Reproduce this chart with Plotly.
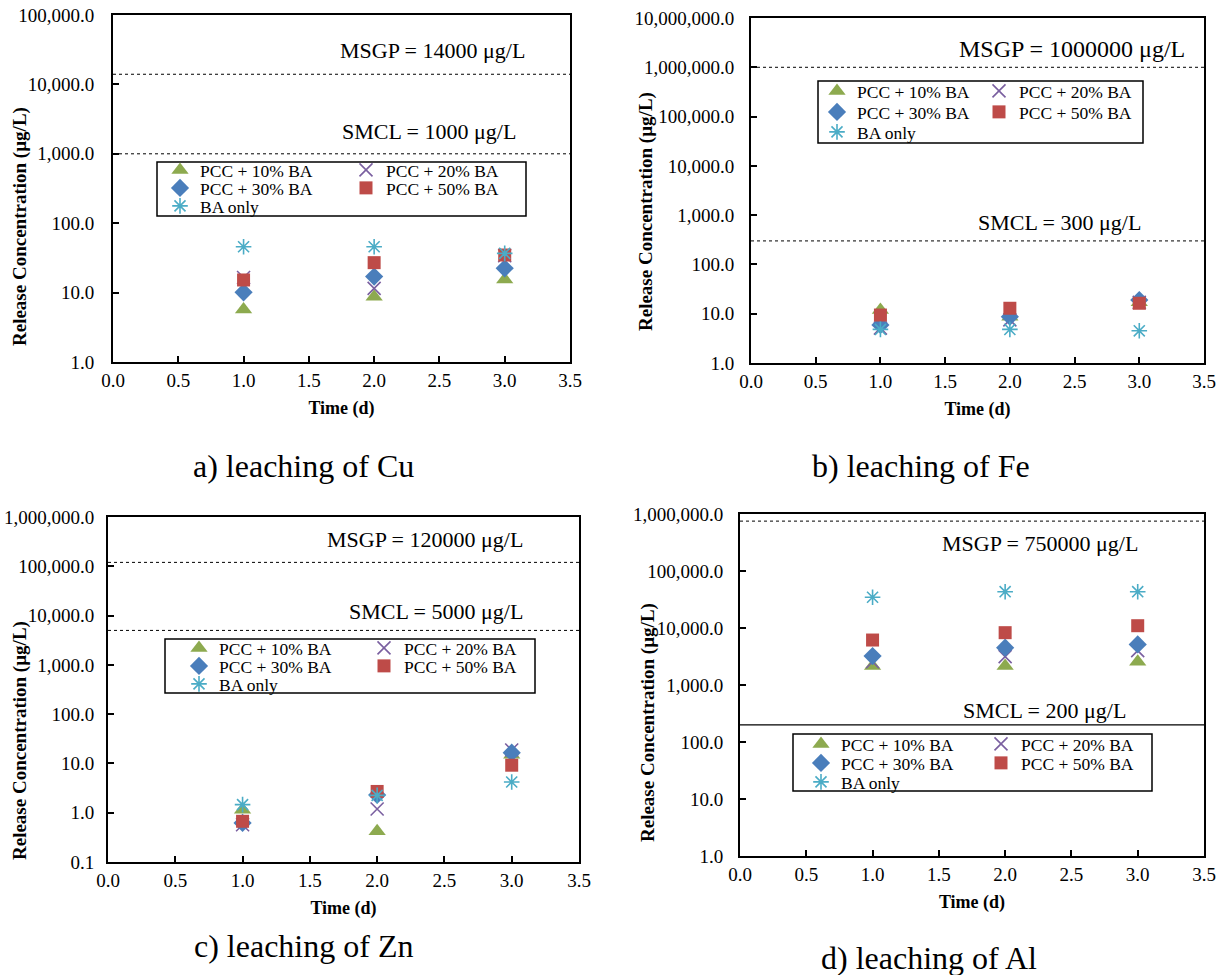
import math
import plotly.graph_objects as go

W, H = 1224, 975

# ---------------- data ----------------
days = [1, 2, 3]
series_names = ["PCC + 10% BA", "PCC + 20% BA", "PCC + 30% BA", "PCC + 50% BA", "BA only"]

cu_10 = [5.7, 8.7, 15.5]
cu_20 = [16.5, 11.5, 34.0]
cu_30 = [10.1, 17.0, 22.4]
cu_50 = [15.2, 27.0, 34.8]
cu_ba = [45.8, 45.8, 36.8]

fe_10 = [11.9, 8.7, 17.0]
fe_20 = [5.1, 7.5, 17.0]
fe_30 = [5.9, 8.7, 19.0]
fe_50 = [9.4, 12.9, 16.3]
fe_ba = [4.8, 4.8, 4.5]

zn_10 = [1.15, 0.42, 15.0]
zn_20 = [0.57, 1.19, 18.7]
zn_30 = [0.62, 2.3, 16.5]
zn_50 = [0.67, 2.7, 9.2]
zn_ba = [1.46, 2.25, 4.2]

al_10 = [2150, 2150, 2560]
al_20 = [2560, 3140, 4000]
al_30 = [3220, 4520, 5150]
al_50 = [6150, 8280, 10970]
al_ba = [34600, 43300, 43300]

msgp_limits = [14000, 1000000, 120000, 750000]
smcl_limits = [1000, 300, 5000, 200]
captions = ["a) leaching of Cu", "b) leaching of Fe", "c) leaching of Zn", "d) leaching of Al"]
x_ticks = [0, 0.5, 1.0, 1.5, 2.0, 2.5, 3.0, 3.5]
y_ticks_a = [1, 10, 100, 1000, 10000, 100000]
y_ticks_b = [1, 10, 100, 1000, 10000, 100000, 1000000, 10000000]
y_ticks_c = [0.1, 1, 10, 100, 1000, 10000, 100000, 1000000]
y_ticks_d = [1, 10, 100, 1000, 10000, 100000, 1000000]

panel_values = [
    [cu_10, cu_20, cu_30, cu_50, cu_ba],
    [fe_10, fe_20, fe_30, fe_50, fe_ba],
    [zn_10, zn_20, zn_30, zn_50, zn_ba],
    [al_10, al_20, al_30, al_50, al_ba],
]
panel_yticks = [y_ticks_a, y_ticks_b, y_ticks_c, y_ticks_d]

# ---------------- styles ----------------
SERIF = "Liberation Serif, Times New Roman, serif"
marker_styles = [
    dict(symbol="triangle-up", size=15, color="#8DAA4F", line=dict(width=0)),
    dict(symbol="x-thin-open", size=13, color="#7A5FA0", line=dict(width=1.6, color="#7A5FA0")),
    dict(symbol="diamond", size=14, color="#4A7EBB", line=dict(width=0)),
    dict(symbol="square", size=13, color="#BE4B48", line=dict(width=0)),
    dict(symbol="asterisk-open", size=13, color="#4BACC6", line=dict(width=1.6, color="#4BACC6")),
]

# layout in pixels
panels = [
    dict(dx=(113, 570), dy=(15, 362), ytitle=(20, 227), cap=(303, 466),
         rows=(170, 188, 206), legx=160, entw=141, box=(157, 162, 526, 216),
         msgp=(3.17, 24, 22), smcl=(3.10, 22, 22), smcl_dash="dot", standoff=13),
    dict(dx=(751, 1204), dy=(18, 363), ytitle=(646, 212), cap=(921, 466),
         rows=(91, 112, 132), legx=817, entw=117, box=(818, 81, 1143, 143),
         msgp=(3.37, 18, 24), smcl=(3.03, 18, 22), smcl_dash="dot", standoff=11),
    dict(dx=(108, 579), dy=(517, 862), ytitle=(20, 741), cap=(303, 946),
         rows=(648, 666, 684), legx=179, entw=140, box=(165, 639, 535, 693),
         msgp=(3.10, 23, 22), smcl=(3.10, 19, 22), smcl_dash="dot", standoff=8),
    dict(dx=(740, 1204), dy=(514, 856), ytitle=(648, 723), cap=(929, 958),
         rows=(744, 763, 782), legx=801, entw=135, box=(793, 734, 1152, 791),
         msgp=(3.02, -22, 22), smcl=(2.93, 14, 22), smcl_dash="solid", standoff=11),
]


def pxx(x):
    return x / W


def pxy(y):
    return 1 - y / H


fig = go.Figure()
layout = dict(
    width=W, height=H, margin=dict(l=0, r=0, t=0, b=0),
    paper_bgcolor="white", plot_bgcolor="white", showlegend=True,
    font=dict(family=SERIF, color="black"),
)
annotations = []
shapes = []
legend_counter = 0
row_of_series = [0, 0, 1, 1, 2]

for i, (vals, p) in enumerate(zip(panel_values, panels)):
    sfx = "" if i == 0 else str(i + 1)
    xa, ya = "x" + sfx, "y" + sfx
    legend_ids = []
    for r in range(3):
        legend_counter += 1
        lid = "legend" if legend_counter == 1 else "legend%d" % legend_counter
        legend_ids.append(lid)
        layout[lid] = dict(
            orientation="h", entrywidth=p["entw"], entrywidthmode="pixels",
            x=pxx(p["legx"]), xanchor="left", y=pxy(p["rows"][r]), yanchor="middle",
            bgcolor="rgba(0,0,0,0)", borderwidth=0,
            font=dict(family=SERIF, size=17.5, color="black"),
            itemsizing="trace", tracegroupgap=0,
        )
    # threshold lines
    for lim, dash in ((msgp_limits[i], "dot"), (smcl_limits[i], p["smcl_dash"])):
        fig.add_trace(go.Scatter(
            x=[x_ticks[0], x_ticks[-1]], y=[lim, lim], mode="lines",
            line=dict(color="black", width=1.2 if dash == "solid" else 1, dash=dash),
            showlegend=False, hoverinfo="skip", xaxis=xa, yaxis=ya))
    for k in range(5):
        fig.add_trace(go.Scatter(
            x=days, y=vals[k], mode="markers", name=series_names[k],
            marker=marker_styles[k], xaxis=xa, yaxis=ya,
            legend=legend_ids[row_of_series[k]]))

    yt = panel_yticks[i]
    layout["xaxis" + sfx] = dict(
        domain=[pxx(p["dx"][0]), pxx(p["dx"][1])], anchor=ya, range=[0, 3.5],
        tickvals=x_ticks, tickformat=".1f", ticks="inside", ticklen=6, tickwidth=1.5,
        tickcolor="black", showline=True, linewidth=2, linecolor="black", mirror=True,
        showgrid=False, zeroline=False, ticklabeloverflow="allow",
        tickfont=dict(family=SERIF, size=19, color="black"),
        title=dict(text="<b>Time (d)</b>", font=dict(family=SERIF, size=18, color="black"), standoff=12),
        automargin=False,
    )
    layout["yaxis" + sfx] = dict(
        domain=[pxy(p["dy"][1]), pxy(p["dy"][0])], anchor=xa, type="log",
        range=[math.log10(yt[0]), math.log10(yt[-1])],
        tickvals=yt, tickformat=",.1f", ticks="inside", ticklen=6, tickwidth=1.5,
        tickcolor="black", showline=True, linewidth=2, linecolor="black", mirror=True,
        showgrid=False, zeroline=False, ticklabelstandoff=p["standoff"],
        ticklabeloverflow="allow",
        tickfont=dict(family=SERIF, size=19, color="black"),
        automargin=False,
    )
    # y title
    annotations.append(dict(
        text="<b>Release Concentration (µg/L)</b>", textangle=-90,
        x=pxx(p["ytitle"][0]), y=pxy(p["ytitle"][1]), xref="paper", yref="paper",
        showarrow=False, xanchor="center", yanchor="middle",
        font=dict(family=SERIF, size=19, color="black")))
    # caption
    annotations.append(dict(
        text=captions[i], x=pxx(p["cap"][0]), y=pxy(p["cap"][1]), xref="paper", yref="paper",
        showarrow=False, xanchor="center", yanchor="middle",
        font=dict(family=SERIF, size=32, color="black")))
    # limit labels
    annotations.append(dict(
        text="MSGP = %d μg/L" % msgp_limits[i], x=p["msgp"][0], y=math.log10(msgp_limits[i]),
        xref=xa, yref=ya, xanchor="right", yanchor="middle", yshift=p["msgp"][1],
        showarrow=False, font=dict(family=SERIF, size=p["msgp"][2], color="black")))
    annotations.append(dict(
        text="SMCL = %d μg/L" % smcl_limits[i], x=p["smcl"][0], y=math.log10(smcl_limits[i]),
        xref=xa, yref=ya, xanchor="right", yanchor="middle", yshift=p["smcl"][1],
        showarrow=False, font=dict(family=SERIF, size=p["smcl"][2], color="black")))
    # legend box
    bx = p["box"]
    shapes.append(dict(type="rect", xref="paper", yref="paper",
                       x0=pxx(bx[0]), x1=pxx(bx[2]), y0=pxy(bx[3]), y1=pxy(bx[1]),
                       line=dict(color="black", width=1.5), fillcolor="rgba(0,0,0,0)"))

layout["annotations"] = annotations
layout["shapes"] = shapes
fig.update_layout(**layout)
fig.write_html(
    "out.html",
    config={"displayModeBar": False},
    post_script="document.body.style.margin='0px';document.body.style.overflow='hidden';",
)
